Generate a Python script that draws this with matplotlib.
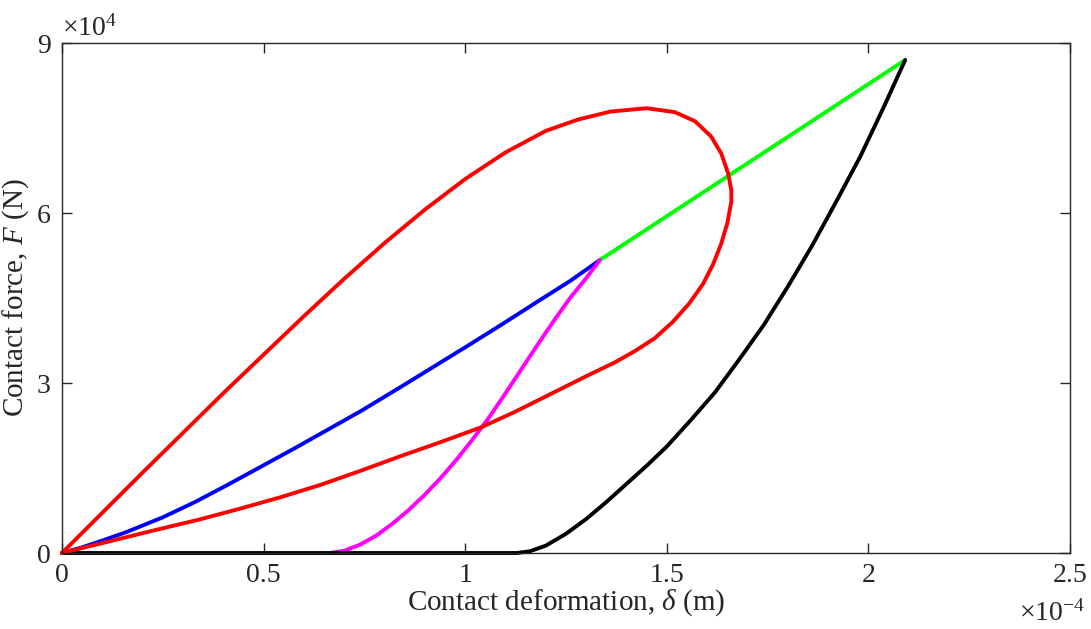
import matplotlib.pyplot as plt
from matplotlib.ticker import FormatStrFormatter

plt.rcParams['font.family'] = ['Liberation Serif', 'DejaVu Serif']
plt.rcParams['mathtext.fontset'] = 'custom'
plt.rcParams['mathtext.rm'] = 'Liberation Serif'
plt.rcParams['mathtext.it'] = 'Liberation Serif:italic'

# deformation in 1e-4 m, force in 1e4 N
red_d = [0, 0.10, 0.20, 0.30, 0.40, 0.50, 0.60, 0.70, 0.80, 0.90, 1.00, 1.10,
         1.20, 1.28, 1.36, 1.45, 1.52, 1.57, 1.61, 1.635, 1.652, 1.660, 1.660,
         1.650, 1.635, 1.615, 1.590, 1.555, 1.515, 1.47, 1.42, 1.37, 1.30, 1.21,
         1.12, 1.04, 0.94, 0.84, 0.74, 0.64, 0.54, 0.44, 0.34, 0.24, 0.12, 0]
red_f = [0, 0.71, 1.42, 2.12, 2.82, 3.50, 4.18, 4.84, 5.47, 6.06, 6.60, 7.07,
         7.45, 7.65, 7.79, 7.85, 7.78, 7.62, 7.35, 7.05, 6.70, 6.40, 6.20,
         5.82, 5.46, 5.10, 4.75, 4.40, 4.08, 3.79, 3.56, 3.36, 3.12, 2.80,
         2.48, 2.22, 1.96, 1.71, 1.45, 1.20, 0.98, 0.78, 0.59, 0.42, 0.21, 0]

blue_d = [0, 0.05, 0.10, 0.16, 0.25, 0.33, 0.41, 0.49, 0.58, 0.66, 0.74, 0.84,
          0.92, 1.00, 1.09, 1.18, 1.26, 1.334]
blue_f = [0, 0.10, 0.22, 0.37, 0.63, 0.90, 1.20, 1.51, 1.86, 2.18, 2.50, 2.93,
          3.28, 3.63, 4.03, 4.44, 4.80, 5.17]

green_d = [1.334, 2.091]
green_f = [5.17, 8.70]

mag_d = [0.665, 0.70, 0.74, 0.78, 0.82, 0.86, 0.90, 0.94, 0.98, 1.02, 1.06,
         1.10, 1.14, 1.18, 1.22, 1.26, 1.30, 1.334]
mag_f = [0, 0.04, 0.15, 0.31, 0.52, 0.76, 1.03, 1.33, 1.66, 2.02, 2.40,
         2.82, 3.25, 3.68, 4.10, 4.50, 4.85, 5.17]

black_d = [0, 1.128, 1.16, 1.20, 1.25, 1.30, 1.35, 1.40, 1.45, 1.50, 1.56, 1.62,
           1.68, 1.74, 1.80, 1.86, 1.92, 1.98, 2.04, 2.091]
black_f = [0, 0, 0.03, 0.13, 0.34, 0.60, 0.90, 1.22, 1.54, 1.88, 2.35, 2.84,
           3.42, 4.02, 4.70, 5.42, 6.20, 7.00, 7.90, 8.70]

fig = plt.figure(figsize=(10.91, 6.29), dpi=100)
ax = fig.add_axes([0.0568, 0.1208, 0.924, 0.8108])

lw = 2.8
style = dict(lw=lw, clip_on=False, solid_joinstyle='round', solid_capstyle='round')
ax.plot(blue_d, blue_f, color='#0000FF', **style)
ax.plot(green_d, green_f, color='#00FF00', **style)
ax.plot(mag_d, mag_f, color='#FF00FF', **style)
ax.plot(black_d, black_f, color='black', **style)
ax.plot(red_d, red_f, color='#FF0000', **style)

ax.set_xlim(0, 2.5)
ax.set_ylim(0, 9)
ax.set_xticks([0, 0.5, 1, 1.5, 2, 2.5])
ax.set_yticks([0, 3, 6, 9])
ax.xaxis.set_major_formatter(FormatStrFormatter('%g'))
ax.yaxis.set_major_formatter(FormatStrFormatter('%g'))

gray = '#262626'
for s in ax.spines.values():
    s.set_color(gray)
    s.set_linewidth(1.0)
ax.tick_params(direction='in', length=7, width=1.0, colors=gray, labelsize=20,
               top=True, right=True, pad=7)
ax.tick_params(axis='y', pad=8)

ax.set_xlabel(r'Contact deformation, $\delta$ (m)', fontsize=21, color=gray, labelpad=0)
ax.set_ylabel(r'Contact force, $F$ (N)', fontsize=21, color=gray, labelpad=4)

ax.text(0.0, 1.002, r'$\times10^{4}$', transform=ax.transAxes, ha='left', va='bottom',
        fontsize=20, color=gray)
ax.text(1.015, -0.092, r'$\times10^{-4}$', transform=ax.transAxes, ha='right', va='top',
        fontsize=20, color=gray)

fig.savefig('out.png', dpi=100)
